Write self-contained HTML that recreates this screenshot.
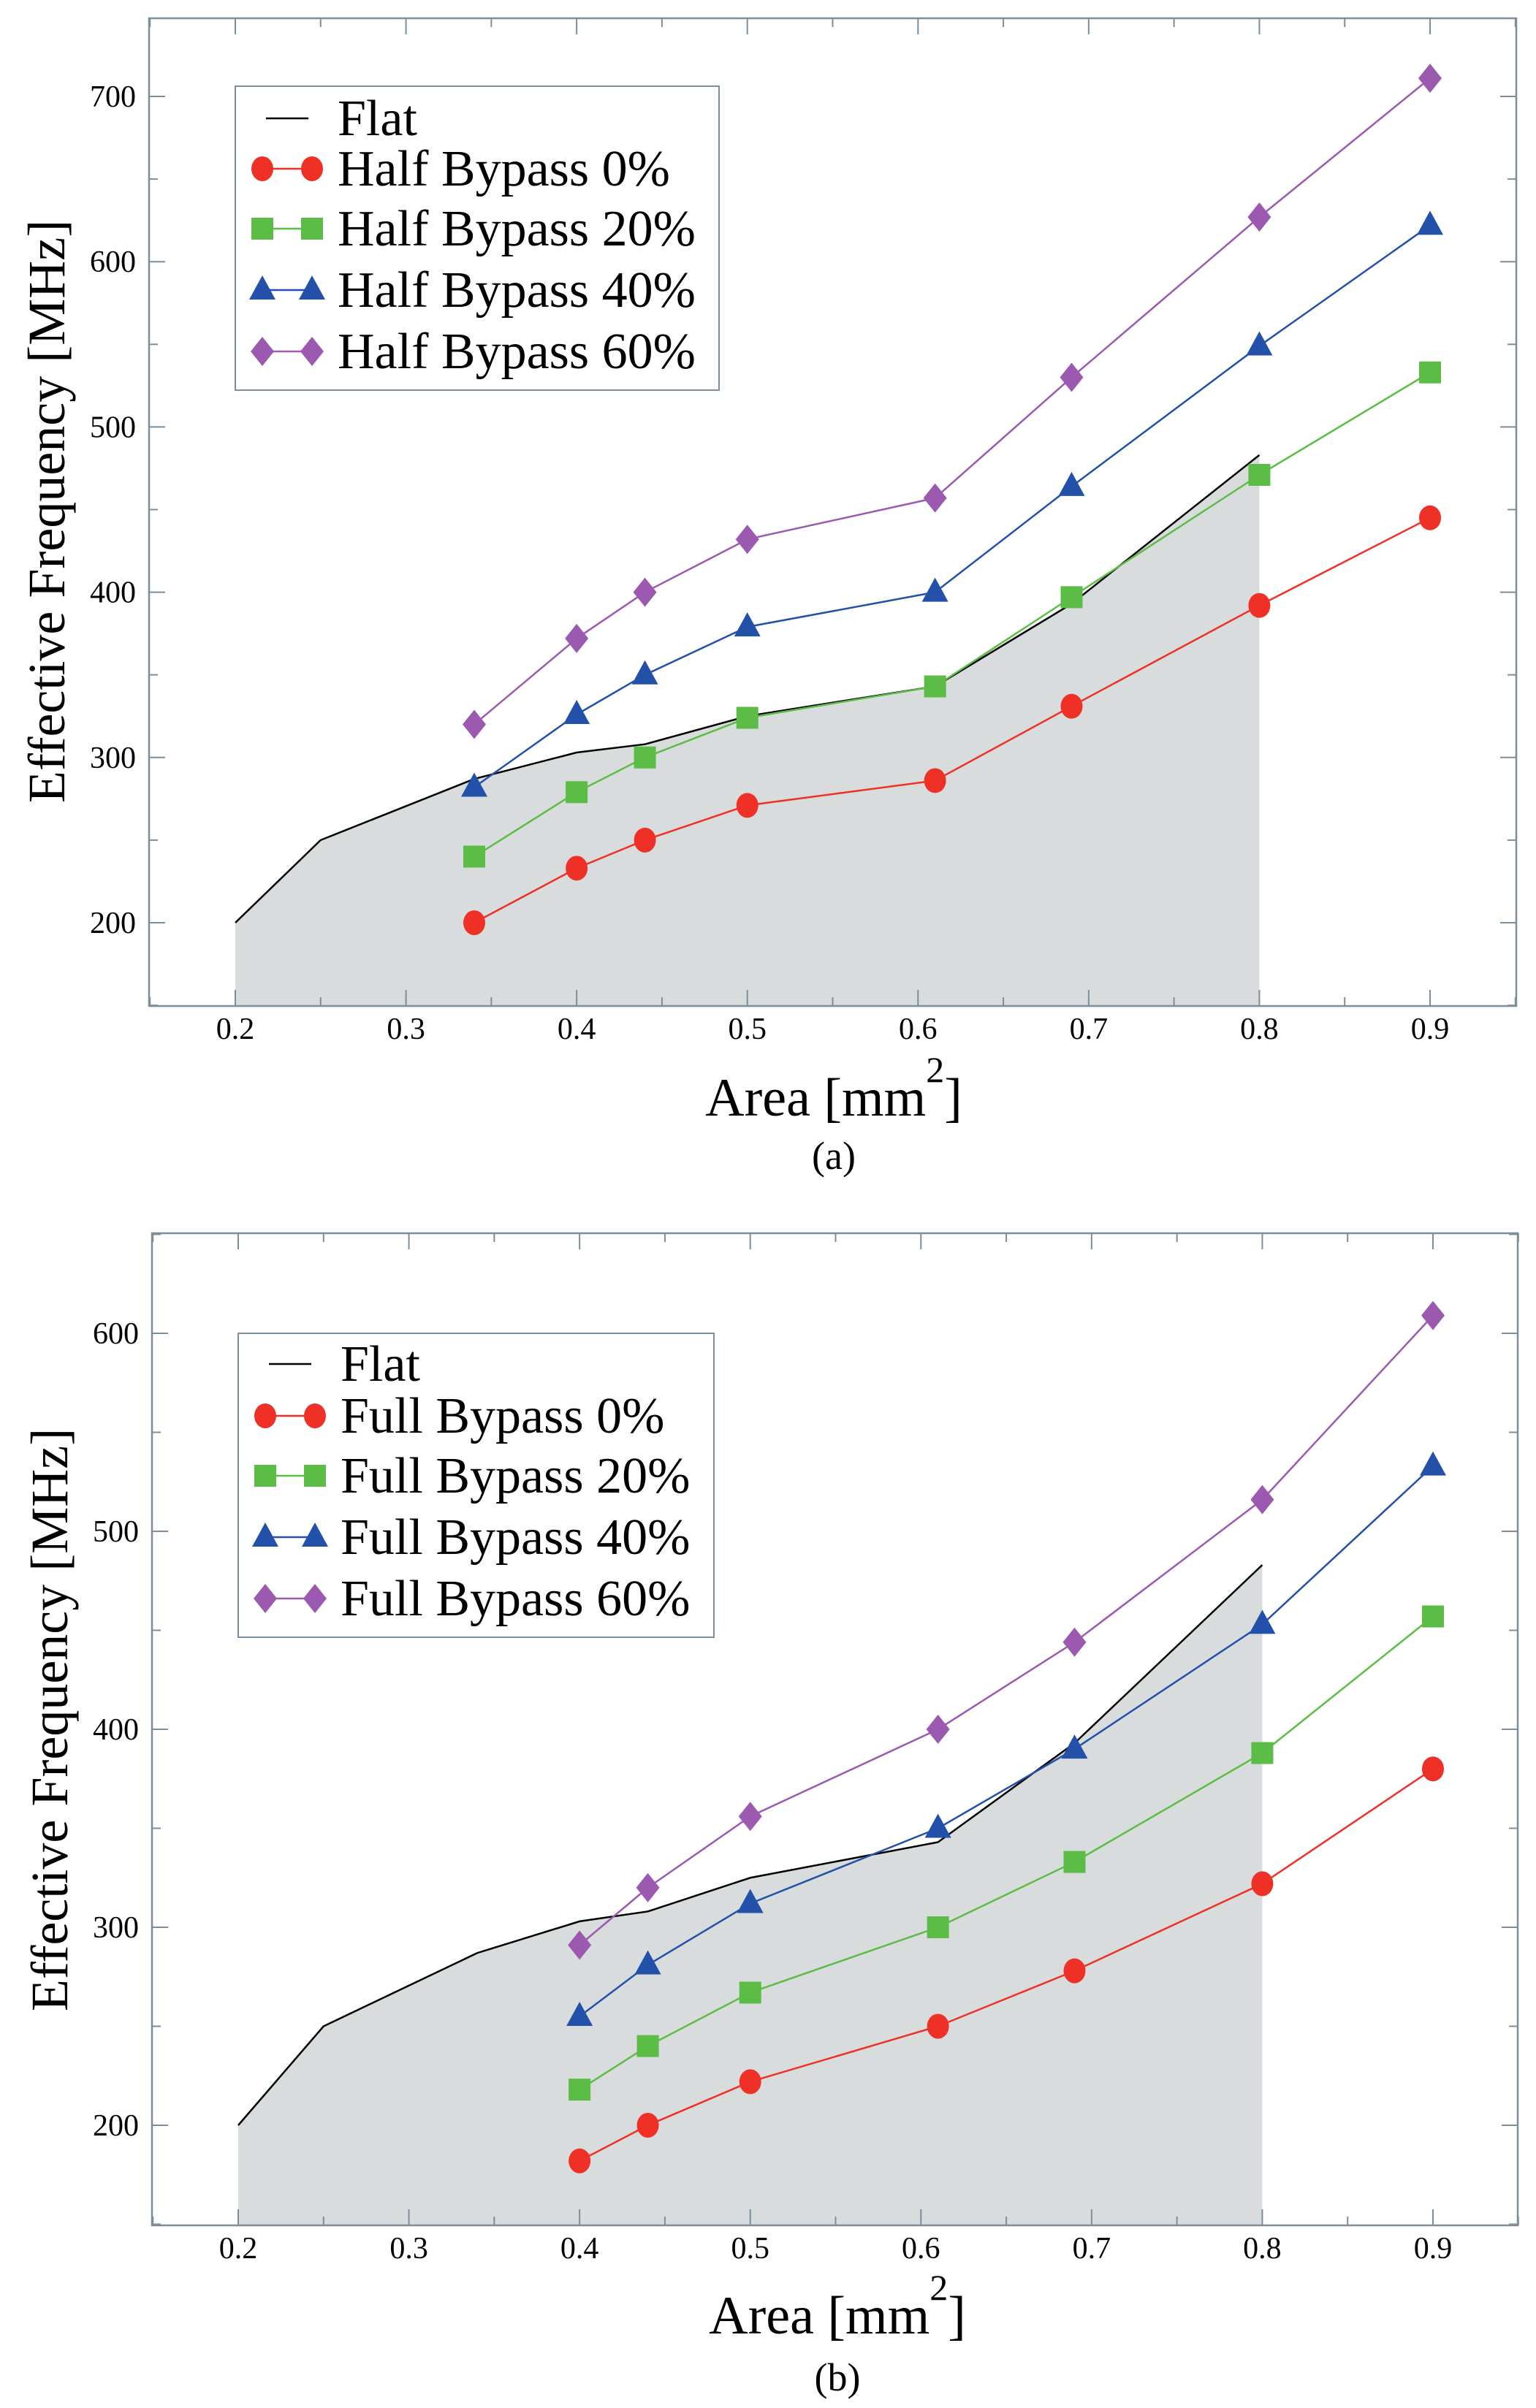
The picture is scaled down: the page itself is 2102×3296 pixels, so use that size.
<!DOCTYPE html>
<html><head><meta charset="utf-8"><style>
html,body{margin:0;padding:0;background:#fff;}
svg{display:block;font-family:"Liberation Serif",serif;}
</style></head><body>
<svg id="svg" width="2102" height="3296" viewBox="0 0 2102 3296" xmlns="http://www.w3.org/2000/svg"></svg>
<script>
const xCats = [0.2,0.25,0.34,0.4,0.44,0.5,0.61,0.69,0.8];
const flatVals = [200,250,287,303,308,325,343,393,483];
const xSeries = [0.34,0.4,0.44,0.5,0.61,0.69,0.8,0.9];
const halfB0 = [200,233,250,271,286,331,392,445];
const halfB20 = [240,279,300,324,343,397,471,533];
const halfB40 = [282,326,350,379,400,464,549,622];
const halfB60 = [320,372,400,432,457,530,627,711];
const xFull = [0.4,0.44,0.5,0.61,0.69,0.8,0.9];
const fullB0 = [182,200,222,250,278,322,380];
const fullB20 = [218,240,267,300,333,388,457];
const fullB40 = [255,281,312,350,390,453,533];
const fullB60 = [291,320,356,400,444,516,609];
const xTicks = [0.2,0.3,0.4,0.5,0.6,0.7,0.8,0.9];
const yTicksA = [200,300,400,500,600,700];
const yTicksB = [200,300,400,500,600];

const NS="http://www.w3.org/2000/svg";
const svg=document.getElementById('svg');
function mk(tag,attrs,parent){const e=document.createElementNS(NS,tag);for(const k in attrs)e.setAttribute(k,attrs[k]);(parent||svg).appendChild(e);return e;}
const SX=1.0;
function txt(s,x,y,size,anchor,parent){const t=mk('text',{x:x/SX,y:y,'font-size':size,'text-anchor':anchor||'start',transform:'scale('+SX+',1)',fill:'#000'},parent);t.textContent=s;return t;}
const AX='#7d8e9b';
const COL={r:'#ee3026',g:'#5bbd45',b:'#2350a8',p:'#9b59b0'};

function marker(g,type,x,y,col){
  let m;
  if(type==='circle') m=mk('ellipse',{cx:x,cy:y,rx:15,ry:17,fill:col},g);
  else if(type==='square') m=mk('rect',{x:x-15,y:y-15,width:30,height:30,fill:col},g);
  else if(type==='tri') m=mk('polygon',{points:`${x},${y-20} ${x-18},${y+13} ${x+18},${y+13}`,fill:col},g);
  else m=mk('polygon',{points:`${x},${y-20} ${x+16},${y} ${x},${y+20} ${x-16},${y}`,fill:col},g);
  
  
}

function chart(cfg){
  const {L,R,T,B,x0px,x1px,yLoPx,yHiPx,yLo,yHi,yTicks,xs,series,labels,tag,legend,cap}=cfg;
  const g=mk('g',{});
  
  
  const X=v=>x0px+(v-0.2)/(0.9-0.2)*(x1px-x0px);
  const Y=v=>yLoPx+(v-yLo)/(yHi-yLo)*(yHiPx-yLoPx);
  let pts=xCats.map((c,i)=>X(c)+','+Y(flatVals[i])).join(' ');
  const area=mk('polygon',{points:`${X(xCats[0])},${B} ${pts} ${X(xCats[xCats.length-1])},${B}`,fill:'#d9dcdc'},g);
  
  
  const fr=mk('rect',{x:L,y:T,width:R-L,height:B-T,fill:'none',stroke:AX,'stroke-width':2.5},g);
  
  
  for(let v=0.15;v<=0.951;v+=0.05){
    const major=Math.abs(v*10-Math.round(v*10))<0.01;
    const len=major?22:12;const x=X(v);
    mk('line',{x1:x,y1:B,x2:x,y2:B-len,stroke:AX,'stroke-width':2},g);
    mk('line',{x1:x,y1:T,x2:x,y2:T+len,stroke:AX,'stroke-width':2},g);
  }
  xTicks.forEach(v=>{const t=txt(v.toFixed(1),X(v),B+45,42,'middle',g);
    
    });
  for(let v=yLo-50;v<=yHi+50;v+=50){
    const y=Y(v); if(y<T||y>B) continue;
    const major=v%100===0;const len=major?22:12;
    mk('line',{x1:L,y1:y,x2:L+len,y2:y,stroke:AX,'stroke-width':2},g);
    mk('line',{x1:R,y1:y,x2:R-len,y2:y,stroke:AX,'stroke-width':2},g);
  }
  yTicks.forEach(v=>{const t=txt(String(v),L-18,Y(v)+14,42,'end',g);
    
    });
  const fl=mk('polyline',{points:pts,fill:'none',stroke:'#000','stroke-width':2.5},g);
  
  
  series.forEach(s=>{
    const sg=mk('g',{},g);
    
    
    mk('polyline',{points:xs.map((c,i)=>X(c)+','+Y(s.vals[i])).join(' '),fill:'none',stroke:s.col,'stroke-width':2.5},sg);
    xs.forEach((c,i)=>marker(sg,s.m,X(c),Y(s.vals[i]),s.col));
  });
  const lg=mk('g',{},g);
  
  
  mk('rect',{x:legend.x,y:legend.y,width:legend.w,height:legend.h,fill:'#fff',stroke:AX,'stroke-width':2},lg);
  legend.rows.forEach((ry,i)=>{
    const e=mk('g',{},lg);
    
    
    const mx1=legend.x+37,mx2=legend.x+105;
    if(i===0){mk('line',{x1:mx1+5,y1:ry,x2:mx2-5,y2:ry,stroke:'#000','stroke-width':2.5},e);}
    else{const s=series[i-1];mk('line',{x1:mx1,y1:ry,x2:mx2,y2:ry,stroke:s.col,'stroke-width':2.5},e);
      marker(e,s.m,mx1,ry,s.col);marker(e,s.m,mx2,ry,s.col);}
    txt(labels[i],legend.x+140,ry+23,70,'start',e);
  });
  const xt=mk('text',{x:cap.xTitleX/SX,y:cap.xTitleY,'font-size':74,'text-anchor':'middle',transform:'scale('+SX+',1)'},g);
  
  
  xt.textContent='Area [mm';
  const sup=mk('tspan',{dy:-46,'font-size':50},xt);sup.textContent='2';
  const cl=mk('tspan',{dy:46,'font-size':74},xt);cl.textContent=']';
  const yt=mk('text',{x:0,y:0,'font-size':72,'text-anchor':'middle',transform:`translate(${cap.yTitleX},${cap.yTitleY}) rotate(-90) scale(${SX},1)`},g);
  
  
  yt.textContent='Effective Frequency [MHz]';
  const c=txt(cap.text,cap.xTitleX,cap.capY,54,'middle',g);
  
  
}

chart({tag:'a',L:204,R:2075,T:25,B:1377,x0px:322,x1px:1957,yLoPx:1263,yHiPx:132,yLo:200,yHi:700,yTicks:yTicksA,xs:xSeries,
  series:[{name:'half-bypass-0',vals:halfB0,col:COL.r,m:'circle'},{name:'half-bypass-20',vals:halfB20,col:COL.g,m:'square'},
          {name:'half-bypass-40',vals:halfB40,col:COL.b,m:'tri'},{name:'half-bypass-60',vals:halfB60,col:COL.p,m:'diamond'}],
  labels:['Flat','Half Bypass 0%','Half Bypass 20%','Half Bypass 40%','Half Bypass 60%'],
  legend:{x:322,y:118,w:662,h:416,rows:[162,231,313,397,481]},
  cap:{xTitleX:1141,xTitleY:1527,yTitleX:88,yTitleY:700,capY:1600,text:'(a)'}});

chart({tag:'b',L:208,R:2077,T:1688,B:3046,x0px:326,x1px:1961,yLoPx:2909,yHiPx:1825,yLo:200,yHi:600,yTicks:yTicksB,xs:xFull,
  series:[{name:'full-bypass-0',vals:fullB0,col:COL.r,m:'circle'},{name:'full-bypass-20',vals:fullB20,col:COL.g,m:'square'},
          {name:'full-bypass-40',vals:fullB40,col:COL.b,m:'tri'},{name:'full-bypass-60',vals:fullB60,col:COL.p,m:'diamond'}],
  labels:['Flat','Full Bypass 0%','Full Bypass 20%','Full Bypass 40%','Full Bypass 60%'],
  legend:{x:326,y:1825,w:651,h:416,rows:[1867,1938,2020,2104,2188]},
  cap:{xTitleX:1146,xTitleY:3194,yTitleX:92,yTitleY:2354,capY:3272,text:'(b)'}});
</script>
</body></html>
